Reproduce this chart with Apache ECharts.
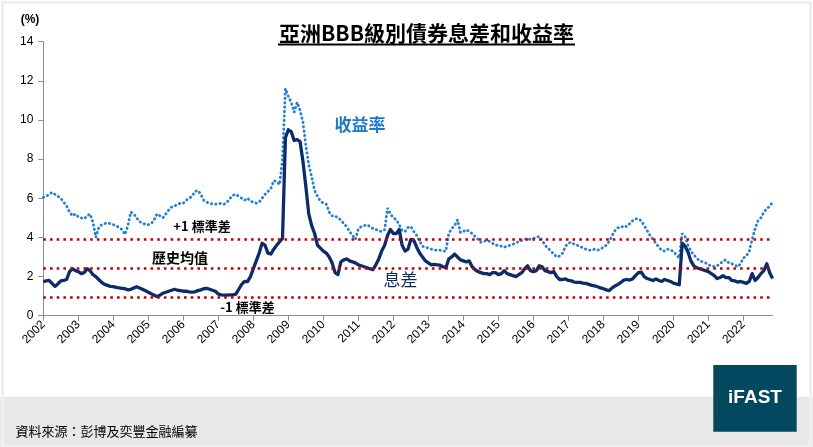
<!DOCTYPE html>
<html><head><meta charset="utf-8">
<script src="https://cdn.jsdelivr.net/npm/echarts@6/dist/echarts.min.js"></script>
<style>html,body{margin:0;padding:0;background:#fff;}#c{width:813px;height:447px;}</style>
</head><body><div id="c"></div>
<script>
// Monthly data, Jan 2002 .. Nov 2022
const startYear = 2002;
const spread = [
1.74,1.78,1.80,1.65,1.50,1.62,1.78,1.80,1.85,2.25,2.40,2.30,
2.25,2.15,2.20,2.40,2.30,2.10,2.00,1.85,1.70,1.60,1.55,1.50,
1.48,1.45,1.42,1.40,1.38,1.32,1.35,1.42,1.48,1.42,1.35,1.28,
1.20,1.12,1.05,0.98,1.05,1.15,1.20,1.25,1.30,1.35,1.30,1.28,
1.25,1.25,1.22,1.20,1.22,1.28,1.32,1.38,1.40,1.35,1.30,1.25,
1.10,1.06,1.05,1.05,1.06,1.06,1.10,1.35,1.60,1.75,1.74,2.00,
2.40,2.80,3.20,3.70,3.60,3.20,3.15,3.40,3.60,3.78,3.95,9.10,
9.50,9.40,8.95,9.00,8.90,7.90,6.60,5.20,4.60,4.20,3.60,3.45,
3.30,3.20,3.00,2.70,2.20,2.10,2.75,2.85,2.90,2.80,2.75,2.70,
2.60,2.55,2.50,2.45,2.40,2.35,2.60,2.90,3.30,3.60,4.10,4.40,
4.20,4.20,4.40,3.60,3.30,3.40,3.90,3.85,3.50,3.20,3.00,2.80,
2.70,2.60,2.62,2.60,2.58,2.50,2.45,2.90,3.00,3.15,3.00,2.85,
2.80,2.75,2.80,2.50,2.35,2.25,2.20,2.15,2.15,2.10,2.20,2.20,
2.10,2.15,2.30,2.15,2.10,2.05,2.00,2.10,2.20,2.40,2.55,2.30,
2.25,2.30,2.55,2.50,2.30,2.25,2.20,2.25,2.00,1.85,1.85,1.88,
1.80,1.78,1.72,1.70,1.70,1.66,1.65,1.60,1.55,1.52,1.48,1.42,
1.38,1.32,1.28,1.42,1.52,1.60,1.70,1.82,1.85,1.82,1.88,2.05,
2.20,2.22,2.00,1.90,1.85,1.80,1.88,1.80,1.75,1.85,1.80,1.75,
1.66,1.62,1.58,3.70,3.55,3.25,2.80,2.55,2.45,2.40,2.35,2.30,
2.25,2.15,2.05,1.90,1.95,2.05,1.95,1.95,1.80,1.78,1.72,1.75,
1.70,1.65,1.75,2.15,1.80,1.95,2.15,2.30,2.65,2.20,1.90
];
const yieldPct = [
6.05,6.10,6.20,6.30,6.20,6.10,6.00,5.80,5.60,5.30,5.10,5.20,
5.05,5.00,4.95,5.10,5.20,4.80,4.00,4.50,4.65,4.70,4.75,4.70,
4.65,4.60,4.50,4.40,4.15,4.60,5.30,5.20,5.00,4.80,4.75,4.65,
4.65,4.70,4.90,5.20,5.10,5.00,5.20,5.40,5.55,5.60,5.70,5.75,
5.75,5.90,6.00,6.10,6.35,6.40,6.20,5.90,5.80,5.75,5.70,5.70,
5.70,5.75,5.70,5.80,6.00,6.15,6.20,6.10,6.00,5.90,6.00,5.85,
5.80,5.75,5.80,6.00,6.20,6.35,6.50,6.90,6.85,6.70,8.00,11.60,
11.20,10.90,10.40,10.90,10.50,9.90,8.70,7.70,7.10,6.40,6.10,5.85,
5.75,5.70,5.30,5.10,5.10,5.00,4.90,4.70,4.55,4.30,4.10,3.90,
4.45,4.55,4.60,4.65,4.55,4.45,4.40,4.35,4.30,4.40,5.50,5.20,
5.00,4.90,4.65,4.35,4.30,4.50,4.55,4.30,4.10,3.80,3.55,3.50,
3.45,3.40,3.35,3.35,3.35,3.30,3.30,4.20,4.45,4.60,4.90,4.25,
4.30,4.40,4.30,4.20,4.05,3.90,3.75,3.80,3.85,3.80,3.70,3.60,
3.60,3.55,3.50,3.55,3.60,3.65,3.70,3.80,3.85,3.90,3.95,3.90,
3.95,4.00,4.05,3.85,3.60,3.45,3.30,3.15,3.00,3.05,3.20,3.55,
3.70,3.75,3.65,3.60,3.55,3.45,3.40,3.35,3.35,3.40,3.35,3.40,
3.50,3.60,3.80,4.10,4.35,4.50,4.50,4.60,4.55,4.70,4.85,4.95,
4.95,4.85,4.60,4.35,4.10,3.90,3.70,3.50,3.35,3.30,3.40,3.35,
3.30,3.10,2.95,4.20,4.05,3.60,3.30,3.10,2.95,2.80,2.75,2.70,
2.60,2.55,2.50,2.55,2.65,2.80,2.85,2.70,2.65,2.60,2.50,2.65,
2.95,3.05,3.30,3.90,4.45,4.85,5.00,5.30,5.45,5.60,5.80
];
const refLevels = [3.90, 2.42, 0.94]; // +1 std, mean, -1 std
const refLabels = ['+1 標準差', '歷史均值', '-1 標準差'];

const spreadData = spread.map((v, i) => [startYear + i / 12, v]);
const yieldData = yieldPct.map((v, i) => [startYear + i / 12, v]);
const xMax = startYear + (spread.length - 1) / 12;

const chart = echarts.init(document.getElementById('c'));
const FONT = '"Liberation Sans", Arial, sans-serif';
chart.setOption({
  animation: false,
  backgroundColor: '#ffffff',
  grid: { left: 43.3, right: 813 - 772.6, top: 41.7, bottom: 447 - 315.7, containLabel: false },
  xAxis: {
    type: 'value', min: startYear, max: xMax, interval: 1,
    axisLine: { lineStyle: { color: '#8c8c8c', width: 1 } },
    axisTick: { show: true, length: 5, lineStyle: { color: '#8c8c8c' } },
    splitLine: { show: false },
    axisLabel: { rotate: 45, margin: 7, color: '#000', fontFamily: FONT, fontSize: 12,
      showMaxLabel: false, formatter: v => String(Math.round(v)) }
  },
  yAxis: {
    type: 'value', min: 0, max: 14, interval: 2,
    axisLine: { show: true, lineStyle: { color: '#8c8c8c', width: 1 } },
    axisTick: { show: true, length: 5, lineStyle: { color: '#8c8c8c' } },
    splitLine: { show: false },
    axisLabel: { color: '#000', fontFamily: FONT, fontSize: 12, margin: 10 }
  },
  series: [
    {
      name: '收益率', type: 'line', data: yieldData, showSymbol: false, z: 3,
      lineStyle: { color: '#2280d2', width: 2.8, type: [0.4, 4.0], cap: 'round' }
    },
    {
      name: '息差', type: 'line', data: spreadData, showSymbol: false, z: 4,
      lineStyle: { color: '#0c2b68', width: 3.3, join: 'round' },
      markLine: {
        silent: true, symbol: 'none', label: { show: false },
        lineStyle: { color: '#c00000', width: 2.6, type: [2.6, 4.1] },
        data: refLevels.map(v => ({ yAxis: v }))
      }
    }
  ],
  graphic: [
    { type: 'rect', left: 0, top: 396.7, shape: { width: 813, height: 51 }, style: { fill: '#e8e8e8' }, z: -10 },
    { type: 'rect', left: 0, top: 0, shape: { x: 1.5, y: 1.5, width: 808, height: 444 }, style: { fill: 'none', stroke: '#efefef', lineWidth: 3 }, z: -9 },
    { type: 'text', left: 15.5, top: 425, style: { text: '資料來源：彭博及奕豐金融編纂', fill: '#000', font: '13px "Noto Sans CJK TC", sans-serif' } },
    { type: 'rect', left: 713.3, top: 365, shape: { width: 83.4, height: 66.7 }, style: { fill: '#02485f' }, z: 10 },
    { type: 'text', x: 755, y: 398, z: 11, style: { text: 'iFAST', fill: '#fff', font: 'bold 19px "Liberation Sans", Arial, sans-serif', align: 'center', verticalAlign: 'middle' } },
    { type: 'text', x: 426.5, y: 33, style: { text: '亞洲BBB級別債券息差和收益率', fill: '#000', font: 'bold 21px "Noto Sans CJK TC", sans-serif', align: 'center', verticalAlign: 'middle' } },
    { type: 'line', shape: { x1: 278, y1: 44.5, x2: 575, y2: 44.5 }, style: { stroke: '#000', lineWidth: 2 } },
    { type: 'text', x: 30, y: 20, style: { text: '(%)', fill: '#000', font: 'bold 12px "Liberation Sans", Arial, sans-serif', align: 'center', verticalAlign: 'middle' } },
    { type: 'text', x: 360, y: 125, z: 20, style: { text: '收益率', fill: '#1f7acb', font: 'bold 17px "Noto Sans CJK TC", sans-serif', align: 'center', verticalAlign: 'middle' } },
    { type: 'text', x: 400.5, y: 280, z: 20, style: { text: '息差', fill: '#0c2b68', font: '17px "Noto Sans CJK TC", sans-serif', align: 'center', verticalAlign: 'middle' } },
    { type: 'text', x: 202, y: 226.5, z: 20, style: { text: refLabels[0], fill: '#000', font: 'bold 13px "Noto Sans CJK TC", sans-serif', align: 'center', verticalAlign: 'middle' } },
    { type: 'text', x: 180, y: 257.5, z: 20, style: { text: refLabels[1], fill: '#000', font: 'bold 14px "Noto Sans CJK TC", sans-serif', align: 'center', verticalAlign: 'middle' } },
    { type: 'text', x: 247.5, y: 307.5, z: 20, style: { text: refLabels[2], fill: '#000', font: 'bold 13px "Noto Sans CJK TC", sans-serif', align: 'center', verticalAlign: 'middle' } }
  ]
});
</script>
</body></html>
